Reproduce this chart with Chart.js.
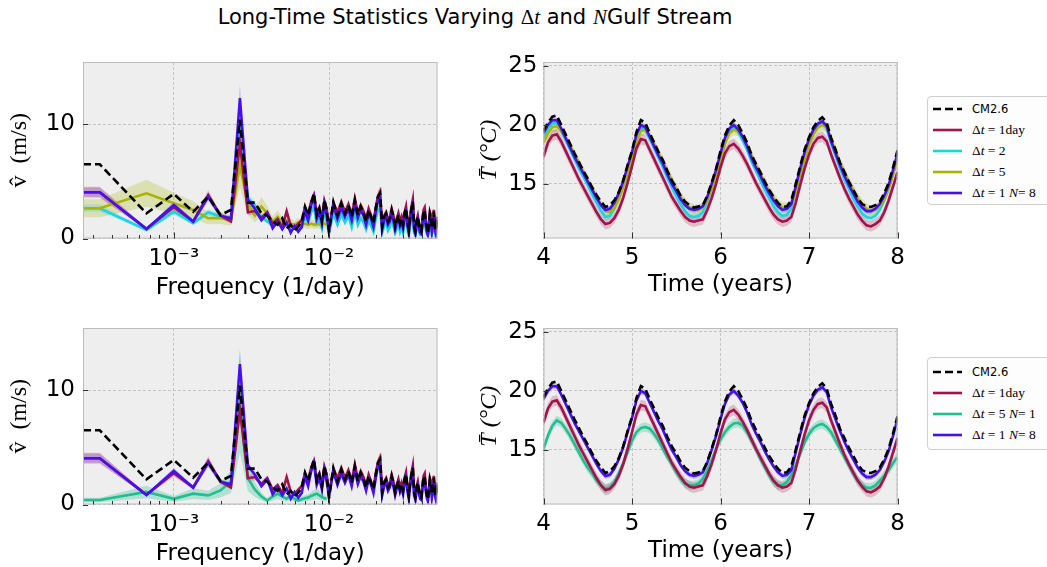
<!DOCTYPE html>
<html>
<head>
<meta charset="utf-8">
<script src="https://cdn.jsdelivr.net/npm/chart.js@4.4.1/dist/chart.umd.min.js"></script>
<style>
  body { margin: 0; background: #fff; overflow: hidden; }
  #page { position: relative; width: 1047px; height: 567px; overflow: hidden; font-family: "DejaVu Sans", sans-serif; }
  canvas.panel { position: absolute; }
  #title { position: absolute; left: 0; top: 4px; width: 950px; text-align: center; font-size: 21px; line-height: 26px; }
  .m { font-family: "Liberation Serif", serif; font-style: italic; }
  .up { font-family: "Liberation Serif", serif; font-style: normal; }
  .legend { position: absolute; left: 927px; width: 130px; border: 1px solid #cfcfcf; border-radius: 4px; background: #fdfdfd; }
  .legend .row { position: absolute; left: 0; height: 20px; width: 130px; }
  .legend svg { position: absolute; left: 5px; top: 8px; }
  .legend .lab { position: absolute; left: 44px; top: 0; line-height: 20px; font-size: 11.5px; white-space: nowrap; }
  .legend .lab.mt { font-family: "Liberation Serif", serif; font-size: 13.5px; }
</style>
</head>
<body>
<div id="page">
  <div id="title">Long-Time Statistics Varying <span class="up">Δ</span><span class="m">t</span> and <span class="m">N</span>Gulf Stream</div>

  <canvas id="specTop" class="panel" width="450" height="270" style="left:0;top:40px"></canvas>
  <canvas id="tempTop" class="panel" width="470" height="270" style="left:450px;top:40px"></canvas>
  <canvas id="specBot" class="panel" width="450" height="270" style="left:0;top:306px"></canvas>
  <canvas id="tempBot" class="panel" width="470" height="270" style="left:450px;top:306px"></canvas>

  <div class="legend" style="top:96px;height:107px">
    <div class="row" style="top:2px"><svg width="29" height="4"><line x1="0" y1="2" x2="29" y2="2" stroke="#000" stroke-width="2.6" stroke-dasharray="8 4"/></svg><span class="lab">CM2.6</span></div>
    <div class="row" style="top:23px"><svg width="29" height="4"><line x1="0" y1="2" x2="29" y2="2" stroke="#A2124B" stroke-width="2.6"/></svg><span class="lab mt">Δ<i>t</i> = 1day</span></div>
    <div class="row" style="top:44px"><svg width="29" height="4"><line x1="0" y1="2" x2="29" y2="2" stroke="#1AD4E0" stroke-width="2.6"/></svg><span class="lab mt">Δ<i>t</i> = 2</span></div>
    <div class="row" style="top:65px"><svg width="29" height="4"><line x1="0" y1="2" x2="29" y2="2" stroke="#A8B400" stroke-width="2.6"/></svg><span class="lab mt">Δ<i>t</i> = 5</span></div>
    <div class="row" style="top:86px"><svg width="29" height="4"><line x1="0" y1="2" x2="29" y2="2" stroke="#4510F0" stroke-width="2.6"/></svg><span class="lab mt">Δ<i>t</i> = 1 <i>N</i>= 8</span></div>
  </div>

  <div class="legend" style="top:357px;height:91px">
    <div class="row" style="top:4px"><svg width="29" height="4"><line x1="0" y1="2" x2="29" y2="2" stroke="#000" stroke-width="2.6" stroke-dasharray="8 4"/></svg><span class="lab">CM2.6</span></div>
    <div class="row" style="top:25px"><svg width="29" height="4"><line x1="0" y1="2" x2="29" y2="2" stroke="#A2124B" stroke-width="2.6"/></svg><span class="lab mt">Δ<i>t</i> = 1day</span></div>
    <div class="row" style="top:46px"><svg width="29" height="4"><line x1="0" y1="2" x2="29" y2="2" stroke="#1FBF8F" stroke-width="2.6"/></svg><span class="lab mt">Δ<i>t</i> = 5 <i>N</i>= 1</span></div>
    <div class="row" style="top:67px"><svg width="29" height="4"><line x1="0" y1="2" x2="29" y2="2" stroke="#4510F0" stroke-width="2.6"/></svg><span class="lab mt">Δ<i>t</i> = 1 <i>N</i>= 8</span></div>
  </div>
</div>

<script>
// ---- spectra: harmonic number k of a 3000-day record (first entry sits on the left axis edge)
const recordDays = 3000;
const harmonics = [0.78,
  1, 2, 3, 4, 5, 6, 7, 8, 9, 10, 11, 12, 13, 14, 15, 16, 17, 18, 19, 20,
  21, 22, 23, 24, 25, 26, 27, 28, 29, 30,
  32, 34, 36, 38, 40, 42, 44, 46, 48, 50, 52, 54, 56, 58, 60, 62, 64, 66, 68, 70,
  72, 74, 76, 78, 80, 82, 84, 86, 88, 90, 92, 94, 96, 98, 100, 102, 104, 106, 108, 110,
  112, 114, 116, 118, 120, 122, 124, 126, 128, 130, 132, 134, 136, 138, 140, 142, 144, 146, 148, 150];

const specCM = [6.5,
  6.5, 2.2, 3.9, 2.35, 3.66, 2.06, 2.5, 10.4, 3.14, 3.14,
  2.2, 2.0, 1.47, 1.2, 1.77, 0.9, 1.2, 0.74, 1.03, 1.47,
  2.79, 2.06, 3.08, 3.96, 2.06, 2.64, 1.62, 3.37, 2.5, 0.6,
  3.2, 2.0, 3.08, 2.2, 2.93, 1.91, 3.37, 2.06, 2.79, 2.3,
  1.47, 2.5, 1.91, 1.33, 2.64, 3.66, 3.96, 1.03, 1.91, 2.2,
  1.47, 1.77, 2.5, 1.91, 1.03, 1.62, 2.06, 1.33, 1.77, 1.2,
  2.2, 2.64, 1.47, 0.74, 1.91, 2.64, 3.22, 1.03, 0.6, 1.47,
  1.91, 1.2, 0.74, 0.6, 1.62, 2.35, 2.5, 1.47, 0.89, 0.45,
  1.2, 2.2, 1.91, 0.89, 1.47, 2.35, 1.2, 0.74, 1.77, 1.03];
const specN8 = [4.05,
  4.05, 0.83, 2.93, 1.47, 3.66, 2.0, 1.77, 12.3, 3.4, 2.6,
  1.6, 2.2, 0.9, 1.5, 0.8, 1.4, 0.5, 1.1, 0.6, 1.0,
  2.4, 1.6, 2.9, 3.6, 1.7, 2.3, 1.3, 3.0, 2.0, 0.7,
  2.9, 1.7, 2.7, 1.9, 2.6, 1.6, 3.0, 1.8, 2.5, 2.0,
  1.2, 2.2, 1.7, 1.0, 2.3, 3.3, 3.5, 0.8, 1.6, 1.9,
  1.2, 1.5, 2.2, 1.6, 0.8, 1.4, 1.8, 1.1, 1.5, 0.9,
  1.9, 2.3, 1.2, 0.5, 1.6, 2.3, 2.9, 0.8, 0.4, 1.2,
  1.6, 0.9, 0.5, 0.4, 1.3, 2.0, 2.2, 1.2, 0.6, 0.3,
  0.9, 1.9, 1.6, 0.6, 1.2, 2.0, 0.9, 0.5, 1.5, 0.8];
const specDt1 = [4.05,
  4.05, 0.85, 2.75, 1.5, 3.8, 2.0, 1.5, 8.3, 2.3, 2.4,
  1.8, 2.3, 1.3, 1.7, 1.0, 2.4, 1.1, 0.9, 1.3, 1.6,
  2.7, 2.1, 3.2, 3.8, 2.2, 2.7, 1.6, 3.3, 2.6, 0.9,
  3.1, 2.3, 3.2, 2.3, 3.0, 2.0, 3.5, 2.2, 2.9, 2.4,
  1.6, 2.6, 2.0, 1.4, 2.7, 3.7, 4.1, 1.2, 2.0, 2.3,
  1.6, 1.9, 2.6, 2.0, 1.2, 1.7, 2.2, 1.5, 1.9, 1.3,
  2.3, 2.8, 1.6, 0.9, 2.0, 2.8, 3.4, 1.2, 0.8, 1.6,
  2.0, 1.3, 0.9, 0.7, 1.7, 2.5, 2.7, 1.6, 1.0, 0.6,
  1.3, 2.3, 2.0, 1.0, 1.6, 2.5, 1.3, 0.9, 1.9, 1.2];
const specDt2 = [2.65,
  2.65, 0.75, 2.35, 1.33, 2.3, 1.9, 1.6, 10.0, 3.5, 2.9,
  1.9, 1.5, 1.1, 1.6, 1.0, 1.3, 0.7, 0.9, 0.7, 1.0,
  1.9, 1.4, 2.3, 2.8, 1.3, 1.7, 0.9, 2.5, 1.5, 0.5,
  2.2, 1.2, 2.1, 1.4, 2.0, 1.0, 2.3, 1.2, 1.8, 1.4,
  0.8, 1.6, 1.1, 0.6, 1.7, 2.5, 2.7, 0.5, 1.1, 1.4,
  0.7, 1.0, 1.6, 1.1, 0.5, 0.9, 1.3, 0.6, 1.0, 0.5,
  1.3, 1.7, 0.8, 0.3, 1.1, 1.7, 2.2, 0.5, 0.3, 0.8,
  1.1, 0.6, 0.3, 0.3, 0.9, 1.4, 1.6, 0.8, 0.4, 0.3,
  0.6, 1.3, 1.1, 0.4, 0.8, 1.4, 0.6, 0.3, 1.0, 0.5];
// these two stop near 0.01 cycles/day (up to k = 29)
const specDt5 = [2.65,
  2.65, 3.96, 3.08, 2.5, 1.77, 1.8, 1.6, 6.4, 3.0, 2.0,
  2.8, 2.2, 1.5, 1.9, 1.4, 1.6, 1.3, 1.2, 1.4, 1.2,
  1.3, 1.2, 1.3, 1.2, 1.3, 1.2, 1.4, 1.3, 1.2];
const specDt5N1 = [0.4,
  0.4, 1.1, 0.5, 0.95, 0.8, 1.24, 2.0, 9.0, 2.3, 1.3,
  0.7, 0.35, 0.7, 0.95, 0.7, 0.5, 0.8, 0.5, 0.35, 0.45,
  0.55, 0.6, 0.75, 0.85, 0.95, 0.8, 0.65, 0.55, 0.5];

const freqMin = 0.78 / recordDays, freqMax = 0.05;
const logTickValues = [0.001, 0.01];
const logTickLabels = ['10⁻³', '10⁻²'];
const logMinorTicks = [3e-4, 4e-4, 5e-4, 6e-4, 7e-4, 8e-4, 9e-4,
  2e-3, 3e-3, 4e-3, 5e-3, 6e-3, 7e-3, 8e-3, 9e-3, 2e-2, 3e-2, 4e-2];
const specYTicks = [0, 10];

// ---- mean temperature time series, sampled every 0.05 year
const years = [4, 4.05, 4.1, 4.15, 4.2, 4.25, 4.3, 4.35, 4.4, 4.45,
  4.5, 4.55, 4.6, 4.65, 4.7, 4.75, 4.8, 4.85, 4.9, 4.95,
  5, 5.05, 5.1, 5.15, 5.2, 5.25, 5.3, 5.35, 5.4, 5.45,
  5.5, 5.55, 5.6, 5.65, 5.7, 5.75, 5.8, 5.85, 5.9, 5.95,
  6, 6.05, 6.1, 6.15, 6.2, 6.25, 6.3, 6.35, 6.4, 6.45,
  6.5, 6.55, 6.6, 6.65, 6.7, 6.75, 6.8, 6.85, 6.9, 6.95,
  7, 7.05, 7.1, 7.15, 7.2, 7.25, 7.3, 7.35, 7.4, 7.45,
  7.5, 7.55, 7.6, 7.65, 7.7, 7.75, 7.8, 7.85, 7.9, 7.95, 8];
const tempCM = [19.5, 20.2, 20.7, 20.8, 20.0, 19.2, 18.4, 17.6, 16.85, 16.1,
  15.45, 14.7, 14.05, 13.5, 13.05, 13.2, 13.6, 14.3, 15.3, 16.6,
  17.8, 19.4, 20.4, 20.2, 19.3, 18.5, 17.7, 17.0, 16.1, 15.3,
  14.7, 14.0, 13.5, 13.2, 13.0, 13.1, 13.2, 14.0, 15.1, 16.3,
  17.8, 19.1, 19.95, 20.4, 20.0, 19.3, 18.5, 17.5, 16.7, 16.0,
  15.2, 14.5, 13.9, 13.4, 13.05, 13.1, 13.6, 15.0, 16.5, 17.9,
  18.95, 19.8, 20.35, 20.65, 20.2, 18.9, 17.9, 16.8, 16.0, 15.2,
  14.5, 13.8, 13.3, 13.1, 13.05, 13.2, 13.5, 14.2, 15.1, 16.4, 17.85];
const tempN8 = [19.3, 20.0, 20.4, 20.4, 19.7, 18.9, 18.1, 17.3, 16.6, 15.9,
  15.2, 14.5, 13.8, 13.2, 12.8, 12.9, 13.4, 14.2, 15.2, 16.5,
  17.7, 19.2, 20.0, 19.8, 19.0, 18.2, 17.4, 16.7, 15.8, 15.0,
  14.4, 13.7, 13.2, 12.9, 12.8, 12.9, 13.1, 13.9, 15.0, 16.2,
  17.6, 18.9, 19.7, 20.0, 19.6, 19.0, 18.2, 17.2, 16.4, 15.7,
  14.9, 14.2, 13.6, 13.1, 12.8, 12.9, 13.3, 14.8, 16.3, 17.7,
  18.8, 19.6, 20.1, 20.3, 19.9, 18.6, 17.6, 16.6, 15.7, 14.9,
  14.2, 13.5, 13.0, 12.7, 12.7, 12.9, 13.3, 14.0, 14.9, 16.2, 17.6];
const tempDt1 = [17.3, 18.5, 19.1, 19.2, 18.6, 17.8, 17.0, 16.2, 15.4, 14.7,
  14.0, 13.3, 12.6, 12.0, 11.6, 11.7, 12.1, 12.8, 13.8, 15.1,
  16.5, 18.0, 18.8, 18.7, 17.9, 17.1, 16.3, 15.5, 14.7, 13.9,
  13.3, 12.7, 12.2, 11.9, 11.8, 11.9, 12.0, 12.8, 13.8, 15.0,
  16.4, 17.6, 18.2, 18.4, 18.0, 17.4, 16.7, 15.9, 15.1, 14.4,
  13.7, 13.0, 12.4, 12.0, 11.8, 11.9, 12.2, 13.4, 14.9, 16.3,
  17.5, 18.4, 18.9, 19.0, 18.6, 17.5, 16.5, 15.5, 14.6, 13.8,
  13.1, 12.4, 11.9, 11.5, 11.4, 11.6, 11.9, 12.6, 13.6, 14.8, 16.0];
const tempDt2 = [18.9, 19.7, 20.1, 20.2, 19.5, 18.7, 17.9, 17.1, 16.3, 15.6,
  14.9, 14.1, 13.4, 12.7, 12.2, 12.3, 12.9, 13.8, 14.9, 16.2,
  17.4, 18.9, 19.8, 19.6, 18.8, 18.0, 17.2, 16.4, 15.5, 14.7,
  14.0, 13.3, 12.7, 12.3, 12.2, 12.3, 12.6, 13.5, 14.7, 15.9,
  17.3, 18.6, 19.5, 19.8, 19.4, 18.7, 17.9, 16.9, 16.1, 15.3,
  14.5, 13.8, 13.1, 12.6, 12.3, 12.4, 12.9, 14.5, 16.0, 17.4,
  18.5, 19.3, 19.9, 20.1, 19.7, 18.4, 17.4, 16.3, 15.4, 14.6,
  13.8, 13.1, 12.5, 12.2, 12.1, 12.3, 12.8, 13.6, 14.6, 15.9, 17.3];
const tempDt5 = [18.5, 19.3, 19.8, 19.9, 19.5, 18.9, 18.2, 17.5, 16.8, 16.0,
  15.3, 14.6, 13.9, 13.2, 12.7, 12.6, 13.0, 13.7, 14.7, 15.9,
  17.2, 18.6, 19.5, 19.6, 19.1, 18.4, 17.6, 16.9, 16.1, 15.3,
  14.6, 13.9, 13.4, 13.0, 12.8, 12.8, 13.0, 13.6, 14.6, 15.7,
  17.0, 18.4, 19.3, 19.6, 19.5, 19.0, 18.3, 17.4, 16.6, 15.9,
  15.1, 14.4, 13.8, 13.3, 13.0, 13.0, 13.2, 14.3, 15.7, 17.1,
  18.3, 19.2, 19.8, 20.0, 19.8, 18.8, 17.8, 16.8, 16.0, 15.2,
  14.5, 13.8, 13.3, 12.9, 12.7, 12.8, 13.1, 13.7, 14.6, 15.8, 17.1];
const tempDt5N1 = [15.1, 16.2, 17.05, 17.5, 17.3, 16.8, 16.2, 15.5, 14.8, 14.1,
  13.5, 13.0, 12.4, 12.0, 11.7, 11.85, 12.25, 13.0, 13.8, 14.8,
  15.8, 16.5, 16.85, 16.95, 16.8, 16.35, 15.8, 15.1, 14.4, 13.8,
  13.1, 12.55, 12.15, 12.0, 12.0, 12.15, 12.55, 13.25, 14.1, 15.1,
  15.9, 16.5, 16.95, 17.25, 17.3, 17.05, 16.5, 15.8, 15.1, 14.25,
  13.55, 12.85, 12.3, 12.0, 12.0, 12.3, 12.85, 13.7, 14.65, 15.65,
  16.35, 16.85, 17.1, 17.2, 16.95, 16.5, 15.8, 15.1, 14.4, 13.7,
  13.0, 12.4, 12.0, 11.8, 11.8, 12.0, 12.4, 12.8, 13.3, 13.9, 14.4];
const yearTicks = [4, 5, 6, 7, 8];
const tempYTicks = [15, 20, 25];

// ---- styles
const sty = {
  cm:   { color: '#000000', band: null, dash: [8, 4], order: 0 },
  n8:   { color: '#4510F0', band: 'rgba(69,16,240,0.22)', order: 1 },
  dt1:  { color: '#A2124B', band: 'rgba(162,18,75,0.22)', order: 2 },
  dt5:  { color: '#A8B400', band: 'rgba(168,180,0,0.25)', order: 3 },
  dt2:  { color: '#1AD4E0', band: 'rgba(26,212,224,0.25)', order: 4 },
  dt5n1:{ color: '#1FBF8F', band: 'rgba(31,191,143,0.28)', order: 3 }
};
const specSpread = { n8: 0.1, dt1: 0.12, dt5: 0.3, dt2: 0.12, dt5n1: 0.5 };
const tempSpread = { n8: 0.25, dt1: 0.45, dt5: 0.45, dt2: 0.3, dt5n1: 0.4 };
const gridColor = '#b9b9b9';

Chart.defaults.font.family = '"DejaVu Sans", sans-serif';
Chart.defaults.color = '#000';

function pts(xs, ys) {
  return ys.map((y, i) => ({ x: xs[i], y: y }));
}

function buildSets(xs, series, spreadOf, relative) {
  const bands = [], lines = [];
  series.forEach(s => {
    const st = sty[s.key];
    if (st.band) {
      const sp = spreadOf[s.key];
      const lo = s.y.map(v => relative ? v * (1 - sp) : v - sp);
      const hi = s.y.map(v => relative ? v * (1 + sp) : v + sp);
      bands.push({ data: pts(xs, lo), borderColor: 'rgba(0,0,0,0)', borderWidth: 0, pointRadius: 0, fill: false, order: 50 });
      bands.push({ data: pts(xs, hi), borderColor: 'rgba(0,0,0,0)', borderWidth: 0, pointRadius: 0, fill: '-1', backgroundColor: st.band, order: 50 });
    }
    lines.push({
      label: s.label, data: pts(xs, s.y), borderColor: st.color, borderWidth: 2.6,
      borderDash: st.dash || [], pointRadius: 0, tension: 0, fill: false, order: st.order
    });
  });
  return bands.concat(lines);
}

// plot background, light frame and inward tick marks
const frameTicks = {
  id: 'frameTicks',
  beforeDraw(chart) {
    const { ctx, chartArea: a } = chart;
    ctx.save();
    ctx.fillStyle = '#eeeeee';
    ctx.fillRect(a.left, a.top, a.right - a.left, a.bottom - a.top);
    ctx.restore();
  },
  afterDraw(chart) {
    const { ctx, chartArea: a } = chart;
    const xs = chart.scales.x, ys = chart.scales.y;
    ctx.save();
    ctx.strokeStyle = '#bcbcbc';
    ctx.lineWidth = 1;
    ctx.strokeRect(a.left + 0.5, a.top + 0.5, a.right - a.left - 1, a.bottom - a.top - 1);
    ctx.strokeStyle = '#333';
    ctx.beginPath();
    xs.ticks.forEach(t => {
      const px = Math.round(xs.getPixelForValue(t.value)) + 0.5;
      const len = t.major ? 6 : 3.5;
      ctx.moveTo(px, a.bottom);
      ctx.lineTo(px, a.bottom - len);
    });
    ys.ticks.forEach(t => {
      const py = Math.round(ys.getPixelForValue(t.value)) + 0.5;
      ctx.moveTo(a.left, py);
      ctx.lineTo(a.left + 5, py);
    });
    ctx.stroke();
    ctx.restore();
  }
};

function makePanel(id, datasets, xScale, yScale, padRight) {
  new Chart(document.getElementById(id), {
    type: 'line',
    data: { datasets: datasets },
    options: {
      responsive: false,
      animation: false,
      devicePixelRatio: 1,
      events: [],
      layout: { padding: { left: 0, right: padRight, top: 22, bottom: 0 } },
      plugins: { legend: { display: false }, tooltip: { enabled: false } },
      scales: { x: xScale, y: yScale }
    },
    plugins: [frameTicks]
  });
}

function specX() {
  return {
    type: 'logarithmic', min: freqMin, max: freqMax,
    afterBuildTicks: s => {
      s.ticks = logMinorTicks.map(v => ({ value: v, major: false }))
        .concat(logTickValues.map(v => ({ value: v, major: true })))
        .sort((a, b) => a.value - b.value);
    },
    afterFit: s => { s.height = 71.5; },
    grid: { drawTicks: false, lineWidth: 0.8, color: c => (c.tick && c.tick.major) ? gridColor : 'rgba(0,0,0,0)' },
    border: { display: false, dash: [3, 2] },
    ticks: {
      autoSkip: false, maxRotation: 0, padding: 7, font: { size: 23 },
      callback: v => { const i = logTickValues.indexOf(v); return i < 0 ? '' : logTickLabels[i]; }
    },
    title: { display: true, text: 'Frequency (1/day)', font: { size: 23 }, padding: { top: 0, bottom: 8.5 } }
  };
}

function specY() {
  return {
    type: 'linear', min: 0, max: 15.45,
    afterBuildTicks: s => { s.ticks = specYTicks.map(v => ({ value: v, major: true })); },
    afterFit: s => { s.width = 83; },
    grid: { drawTicks: false, lineWidth: 0.8, color: gridColor },
    border: { display: false, dash: [3, 2] },
    ticks: { padding: 8, font: { size: 23 } },
    title: { display: true, text: 'v̂  (m/s)', font: { size: 24, family: '"Liberation Serif", serif' }, padding: { top: 5.6, bottom: 0 } }
  };
}

function tempX() {
  return {
    type: 'linear', min: 4, max: 8,
    afterBuildTicks: s => { s.ticks = yearTicks.map(v => ({ value: v, major: true })); },
    afterFit: s => { s.height = 71.5; },
    grid: { drawTicks: false, lineWidth: 0.8, color: gridColor },
    border: { display: false, dash: [3, 2] },
    ticks: { autoSkip: false, maxRotation: 0, padding: 6, font: { size: 23 } },
    title: { display: true, text: 'Time (years)', font: { size: 23 }, padding: { top: 0, bottom: 11.5 } }
  };
}

function tempY() {
  return {
    type: 'linear', min: 10.38, max: 25.33,
    afterBuildTicks: s => { s.ticks = tempYTicks.map(v => ({ value: v, major: true })); },
    afterFit: s => { s.width = 93.5; },
    grid: { drawTicks: false, lineWidth: 0.8, color: gridColor },
    border: { display: false, dash: [3, 2] },
    ticks: { padding: 6, font: { size: 23 } },
    title: { display: true, text: 'T̄ (°C)', font: { size: 24, style: 'italic', family: '"Liberation Serif", serif' }, padding: { top: 25.6, bottom: 0 } }
  };
}

const freqs = harmonics.map(k => k / recordDays);

makePanel('specTop', buildSets(freqs, [
  { key: 'cm', label: 'CM2.6', y: specCM },
  { key: 'dt1', label: 'Δt = 1day', y: specDt1 },
  { key: 'dt2', label: 'Δt = 2', y: specDt2 },
  { key: 'dt5', label: 'Δt = 5', y: specDt5 },
  { key: 'n8', label: 'Δt = 1 N = 8', y: specN8 }
], specSpread, true), specX(), specY(), 12.5);

makePanel('specBot', buildSets(freqs, [
  { key: 'cm', label: 'CM2.6', y: specCM },
  { key: 'dt1', label: 'Δt = 1day', y: specDt1 },
  { key: 'dt5n1', label: 'Δt = 5 N = 1', y: specDt5N1 },
  { key: 'n8', label: 'Δt = 1 N = 8', y: specN8 }
], specSpread, true), specX(), specY(), 12.5);

makePanel('tempTop', buildSets(years, [
  { key: 'cm', label: 'CM2.6', y: tempCM },
  { key: 'dt1', label: 'Δt = 1day', y: tempDt1 },
  { key: 'dt2', label: 'Δt = 2', y: tempDt2 },
  { key: 'dt5', label: 'Δt = 5', y: tempDt5 },
  { key: 'n8', label: 'Δt = 1 N = 8', y: tempN8 }
], tempSpread, false), tempX(), tempY(), 22.5);

makePanel('tempBot', buildSets(years, [
  { key: 'cm', label: 'CM2.6', y: tempCM },
  { key: 'dt1', label: 'Δt = 1day', y: tempDt1 },
  { key: 'dt5n1', label: 'Δt = 5 N = 1', y: tempDt5N1 },
  { key: 'n8', label: 'Δt = 1 N = 8', y: tempN8 }
], tempSpread, false), tempX(), tempY(), 22.5);
</script>
</body>
</html>
